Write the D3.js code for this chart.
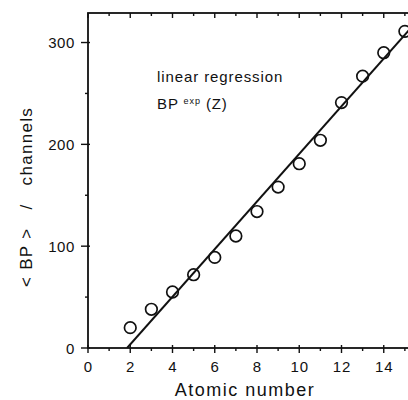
<!DOCTYPE html>
<html><head><meta charset="utf-8">
<script src="https://cdn.jsdelivr.net/npm/d3@7"></script>
<style>body{margin:0;background:#fff}svg{display:block}text{font-family:"Liberation Sans",Arial,sans-serif;fill:#111}</style>
</head><body>
<svg id="c" width="408" height="400"></svg>
<script>
const atomicNumbers = [2,3,4,5,6,7,8,9,10,11,12,13,14,15];
const bpValues = [20,38,55,72,89,110,134,158,181,204,241,267,290,311];
const fitLineZ = [1.85,16];
const fitLineBP = [0,331];
const xTicks = [0,2,4,6,8,10,12,14];
const yTicks = [0,100,200,300];

const svg = d3.select("#c");
const L=88, T=13, R=426, B=348;
const x = d3.scaleLinear().domain([0,16]).range([L,R]);
const y = d3.scaleLinear().domain([0,329]).range([B,T]);

const g = svg.append("g");
g.append("defs").append("clipPath").attr("id","clip").append("rect").attr("x",L).attr("y",T).attr("width",R-L).attr("height",B-T);

// frame
g.append("rect").attr("x",L).attr("y",T).attr("width",R-L).attr("height",B-T).attr("fill","none").attr("stroke","#111").attr("stroke-width",1.8);

// bottom/top axis ticks
const xAll = d3.range(0,17,1);
g.selectAll(".xt").data(xAll).join("line").attr("x1",d=>x(d)).attr("x2",d=>x(d))
 .attr("y1",d=>B-(d%2===0?3:0)).attr("y2",d=>B+(d%2===0?5:3)).attr("stroke","#111").attr("stroke-width",1.4);
g.selectAll(".xtt").data(xAll).join("line").attr("x1",d=>x(d)).attr("x2",d=>x(d))
 .attr("y1",T).attr("y2",d=>T+(d%2===0?5:3)).attr("stroke","#111").attr("stroke-width",1.4);
g.selectAll(".xl").data(xTicks).join("text").attr("x",d=>x(d)+0.5).attr("y",372)
 .attr("text-anchor","middle").attr("font-size",15).attr("letter-spacing",1).text(d=>d);

// left axis ticks
const yAll = d3.range(0,330,50);
g.selectAll(".yt").data(yAll).join("line").attr("y1",d=>y(d)).attr("y2",d=>y(d))
 .attr("x1",d=>L-(d%100===0?7:3)).attr("x2",d=>L+(d%100===0?2:0)).attr("stroke","#111").attr("stroke-width",1.4);
g.selectAll(".yl").data(yTicks).join("text").attr("x",75).attr("y",d=>y(d)+5.5)
 .attr("text-anchor","end").attr("font-size",15).attr("letter-spacing",0.6).text(d=>d);

// fit line
g.append("line").attr("clip-path","url(#clip)")
 .attr("x1",x(fitLineZ[0])).attr("y1",y(fitLineBP[0])).attr("x2",x(fitLineZ[1])).attr("y2",y(fitLineBP[1]))
 .attr("stroke","#111").attr("stroke-width",2);

// points
g.selectAll(".p").data(atomicNumbers).join("circle").attr("cx",d=>x(d)).attr("cy",(d,i)=>y(bpValues[i]))
 .attr("r",5.8).attr("fill","none").attr("stroke","#111").attr("stroke-width",1.7);

// annotation
g.append("text").attr("x",157).attr("y",82).attr("font-size",15).attr("letter-spacing",0.9).text("linear regression");
const t2 = g.append("text").attr("x",157).attr("y",109).attr("font-size",15).attr("letter-spacing",0.9);
t2.append("tspan").text("BP ");
t2.append("tspan").attr("font-size",9).attr("dy",-5).text("exp");
t2.append("tspan").attr("dy",5).text(" (Z)");

// axis titles
g.append("text").attr("x",245).attr("y",396).attr("text-anchor","middle").attr("font-size",18).attr("letter-spacing",1.5).text("Atomic number");
g.append("text").attr("transform","translate(32,197) rotate(-90)").attr("text-anchor","middle").attr("font-size",17).attr("letter-spacing",1.3)
 .attr("xml:space","preserve").text("< BP >   /   channels");
</script>
</body></html>
